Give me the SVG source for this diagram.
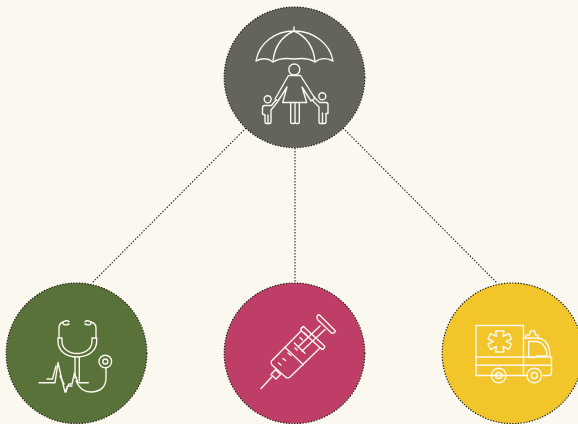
<svg xmlns="http://www.w3.org/2000/svg" width="578" height="424" viewBox="0 0 578 424">
<style>
.disc{stroke:#26261f;stroke-width:1.2;stroke-dasharray:1.4 1.4}
.con{fill:none;stroke:#26261f;stroke-width:1.1;stroke-dasharray:1.5 1.5}
.ic{fill:none;stroke:#fbf8ef;stroke-width:1.4;stroke-linejoin:round;stroke-linecap:round}
</style>
<rect width="578" height="424" fill="#fbf8ef"/>
<g id="connectors">
<path class="con" d="M246 128L92 283"/>
<path class="con" d="M295 148V283"/>
<path class="con" d="M343 128L497 283"/>
</g>
<g id="family">
<circle class="disc" cx="294.500" cy="77.300" r="70.300" fill="#64645a"/>
<g class="ic">
<path d="M294 27V31M256 61C259 43 275 31 294 31C313 31 330 43 333 61C327 58 320 58 315 62C309 58 301 58 294 59C287 58 279 58 273 62C268 58 262 58 256 61Z"/>
<path d="M294 31C282 36 274 47 273 62M294 31C306 36 314 47 315 62"/>
<circle cx="294.300" cy="69.500" r="5.500"/>
<path d="M288.500 75.500H300.500L315 98.500L311 101L302 87L306.700 102.500H282.700L287 87L278 101L275 99Z"/>
<path d="M290.700 102.500V122Q290.700 123.500 292.200 123.500H293.500Q295 123.500 295 122V102.500M295 122Q295 123.500 296.500 123.500H297.800Q299.300 123.500 299.300 122V102.500"/>
<circle cx="267.700" cy="99.300" r="3.500"/>
<path d="M276 100L271.500 105.500H265Q262.500 105.500 262.500 108V114L265 115V122Q265 123.500 266.500 123.500H269.500Q271 123.500 271 122V110L277.500 102"/>
<path d="M268 115V123.500"/>
<circle cx="322.300" cy="96.300" r="3.500"/>
<path d="M314 97L319.500 102.500H326Q328 102.500 328 104.500V113.500H326V122Q326 123.500 324.500 123.500H320.500Q319 123.500 319 122V107L312 100"/>
<path d="M322.500 113V123.500"/>
</g>
</g>
<g id="stethoscope">
<circle class="disc" cx="76.500" cy="353.300" r="70.300" fill="#59723a"/>
<g class="ic">
<path d="M69 321.800C68 320 64 320.500 63 322.500C62.500 325 66 325.500 69 324"/>
<path d="M85 321.800C86 320 90 320.500 91 322.500C91.500 325 88 325.500 85 324"/>
<path d="M63 322C60 323 59 325 59 328V338M91 322C94.500 323 96 325 96 328V338"/>
<path d="M58 338H62V341C62 349 69 353.500 77 353.500C85 353.500 92 349 92 341V338H96.700V341C96.700 351 88 357 77 357C66 357 58 351 58 341Z"/>
<path d="M75 357V378M79.300 357V381"/>
<path d="M39 382.700H55L58 362.500L61.500 378L65 392L69 384H72L74.500 373L78 382.700H88.300"/>
<path d="M47 379H52.500L56 366M60 376L64 384M66 392L67.500 386H72"/>
<path d="M76 381C79 388 84 392 91 392C100 392 106 387 106 378V368"/>
<circle cx="105.300" cy="361.500" r="6.300"/>
<circle cx="105.300" cy="361.500" r="2.500"/>
</g>
</g>
<g id="syringe">
<circle class="disc" cx="294.500" cy="353.300" r="70.300" fill="#bf3e68"/>
<g class="ic">
<path d="M261 388.500L271.700 377"/>
<path d="M271 374.500L275.500 369.500L280.500 374.500L276 379Z"/>
<path d="M301 331L271.500 361Q270.500 363 272 365L286 377.500Q288 378.500 290 377L320 348"/>
<path d="M303.500 326.500L324.500 346Q325 348 323 349L322 349.500L301 330.500Q300.500 328 303.500 326.500Z"/>
<path d="M285 347.300L303.300 364.700"/>
<path d="M294.300 343L305 353.300"/>
<path d="M320 326L298 347M325 329.500L302 351"/>
<path d="M318 315Q316 317 318 320L331.500 333Q334 334 335.500 331.500Q335.500 331 334.500 330L320 315.500Q319 314.500 318 315Z"/>
<path d="M278.500 363L281 365M283 358.500L285.500 360.500M288 353L291 355.500M295 348L297 350M300 337.500L302.500 340M304.500 333L307 335.500"/>
</g>
</g>
<g id="ambulance">
<circle class="disc" cx="512.500" cy="353.300" r="70.300" fill="#f2c62b"/>
<g class="ic">
<path d="M476 325.500H523.500V375.500H476Z"/>
<path d="M476 357H550M476 365.300H550"/>
<path d="M524 338H536C545 338 550 344 550 357H551.500V372Q551.500 375.500 549 375.500H543M524 375.500H527M506 375.500H491"/>
<path d="M528.700 341.500H536C542 341.500 547 348 547 356H537L535 357.500H528.700Z"/>
<path d="M526 338V335H529.500L530.500 331H534.500L535.500 335H538V338"/>
<circle cx="498.700" cy="375.500" r="7.300"/>
<circle cx="498.700" cy="375.500" r="3"/>
<circle cx="534.300" cy="375.500" r="7.300"/>
<circle cx="534.300" cy="375.500" r="3"/>
<path d="M495.500 331H504L503 336.500L509 333.500L511.500 339L506 341.300L511.500 344L509 349.500L503 346.500L504 352H495.500L496.500 346.500L490.500 349.500L488 344L493.500 341.300L488 339L490.500 333.500L496.500 336.500Z"/>
</g>
</g>
</svg>
